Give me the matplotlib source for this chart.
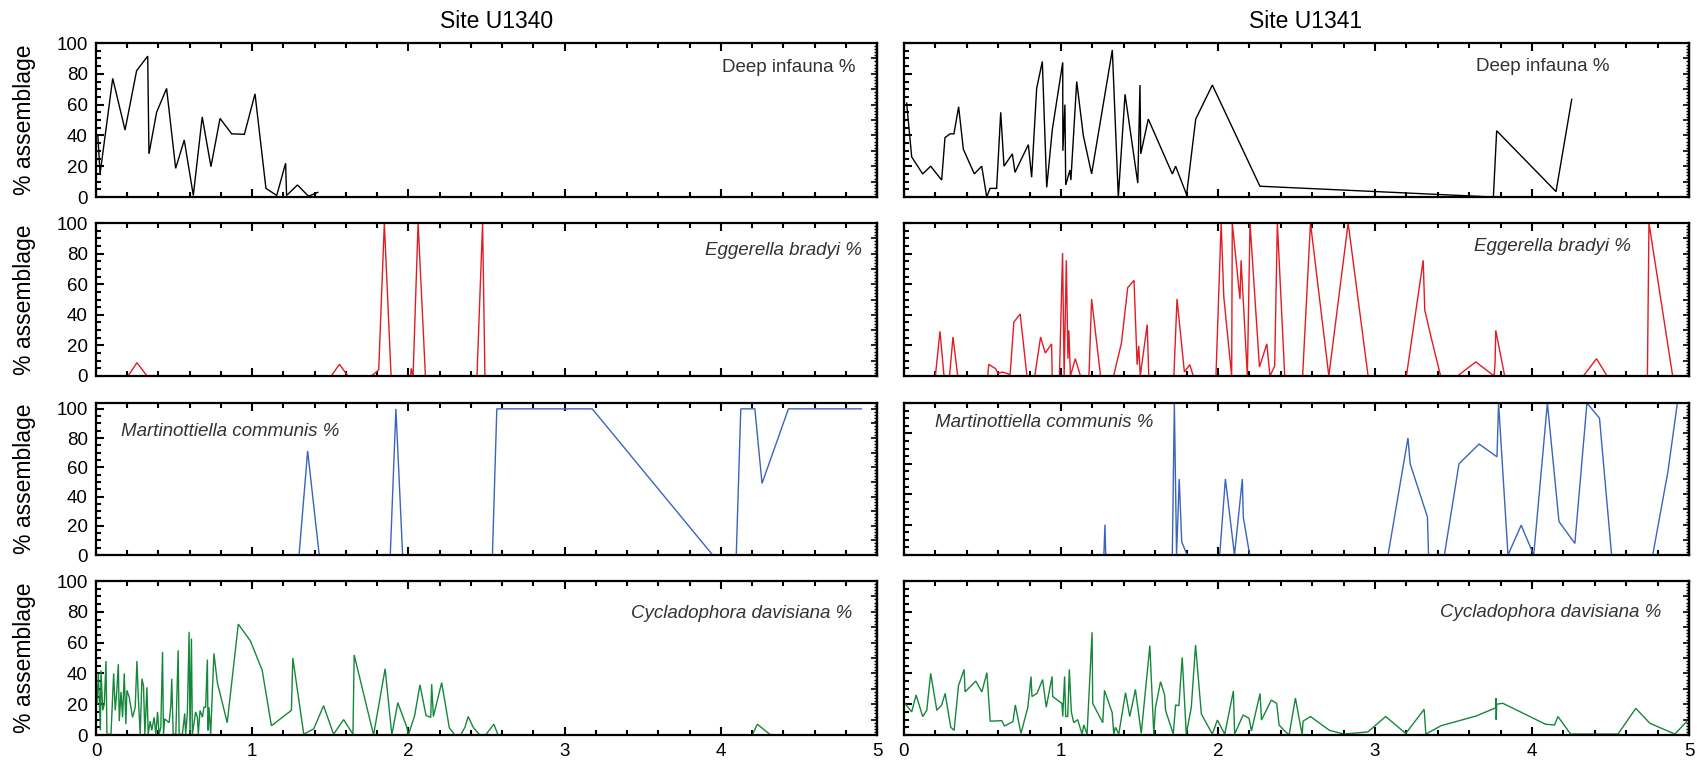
import matplotlib
matplotlib.use("Agg")
import matplotlib.pyplot as plt
from matplotlib.ticker import MultipleLocator, NullFormatter

plt.rcParams['font.family'] = ['Liberation Sans', 'DejaVu Sans']

# ---------------- data ----------------
deep_l_x = [0.0, 0.012, 0.026, 0.107, 0.186, 0.26, 0.331, 0.339, 0.388, 0.452, 0.51, 0.565, 0.623,
            0.68, 0.736, 0.794, 0.869, 0.95, 1.018, 1.088, 1.157, 1.214, 1.22, 1.29, 1.36, 1.42]
deep_l_y = [40, 40, 15, 77, 43.5, 82, 91.5, 28, 55, 70.5, 18.6, 37, 1,
            52, 19.7, 51, 41, 40.7, 67, 5.6, 1, 22, 1, 7.8, 0.5, 3]

deep_r_x = [0.017, 0.049, 0.119, 0.17, 0.24, 0.261, 0.293, 0.318, 0.348, 0.378, 0.448, 0.495, 0.527,
            0.548, 0.59, 0.616, 0.637, 0.69, 0.707, 0.792, 0.813, 0.845, 0.881, 0.909, 0.945, 1.011,
            1.012, 1.025, 1.03, 1.057, 1.063, 1.1, 1.142, 1.195, 1.327, 1.365, 1.408, 1.489, 1.503,
            1.508, 1.556, 1.709, 1.73, 1.8, 1.858, 1.964, 2.267, 3.754, 3.775, 4.153, 4.253]
deep_r_y = [61, 26, 15, 20, 11, 38.5, 41, 41, 58.6, 31, 15, 20, 0,
            5.6, 5.6, 55, 20, 28, 16, 34, 12.8, 70.5, 88, 6.3, 44, 87.4,
            30, 60, 7.8, 17.5, 11, 75, 40, 15, 95.5, 0, 66.7, 9, 72.7,
            28, 50.6, 15, 20, 1.5, 50.6, 72.7, 7, 0, 43, 3.5, 63.4]

egg_l_x = [0.205, 0.262, 0.327, 1.505, 1.559, 1.613, 1.764, 1.81, 1.846, 1.889, 2.015, 2.017, 2.03,
           2.062, 2.109, 2.439, 2.475, 2.49]
egg_l_y = [0, 8.7, 0, 0, 7.6, 0, 0, 4, 100, 0, 0, 5, 0,
           100, 0, 0, 100, 0]

egg_r_x = [0.2, 0.229, 0.255, 0.29, 0.312, 0.342, 0.533, 0.54, 0.583, 0.6,
           0.625, 0.676, 0.7, 0.74, 0.783, 0.833, 0.87, 0.9, 0.94, 0.944,
           0.99, 1.01, 1.02, 1.034, 1.044, 1.05, 1.06, 1.091, 1.124, 1.178,
           1.195, 1.252, 1.335, 1.385, 1.425, 1.465, 1.485, 1.495, 1.505, 1.549,
           1.559, 1.719, 1.739, 1.786, 1.82, 1.843, 1.987, 2.02, 2.037, 2.087,
           2.091, 2.14, 2.147, 2.187, 2.204, 2.264, 2.311, 2.331, 2.361, 2.378,
           2.425, 2.539, 2.589, 2.706, 2.829, 2.956, 3.2, 3.307, 3.317, 3.357,
           3.418, 3.525, 3.642, 3.759, 3.765, 3.769, 3.826, 4.327, 4.411, 4.478,
           4.735, 4.745, 4.896]
egg_r_y = [0, 29.2, 0, 0, 25.5, 0, 0, 7.6, 4.8, 1.5,
           2.6, 1, 35.3, 40.5, 0, 0, 25.5, 15, 21, 0,
           0, 80.4, 0, 75.6, 11.3, 29.8, 0, 11.3, 0, 0,
           50.3, 0, 0, 21.6, 57.7, 62.5, 7.4, 19.6, 0, 33.6,
           0, 0, 50.3, 2.6, 7.4, 0, 0, 100, 51.6, 0,
           100, 50.3, 75.6, 0, 100, 5.9, 21, 0, 6.5, 100,
           0, 0, 100, 0, 100, 0, 0, 75.6, 43, 25.5,
           0, 0, 9.2, 0, 9.2, 29.8, 0, 0, 11.3, 0,
           0, 100, 0]

mart_l_x = [1.3, 1.355, 1.429, 1.884, 1.92, 1.963, 2.538, 2.566, 3.177, 3.948, 4.099, 4.128, 4.218,
            4.264, 4.433, 4.9]
mart_l_y = [0, 71.2, 0, 0, 100, 0, 0, 100, 100, 0, 0, 100, 100,
            49, 100, 100]

mart_r_x = [1.273, 1.28, 1.285, 1.709, 1.722, 1.736, 1.753, 1.769, 1.803, 2.011,
            2.047, 2.105, 2.155, 2.161, 2.202, 3.083, 3.21, 3.224, 3.334, 3.341,
            3.442, 3.535, 3.663, 3.777, 3.787, 3.847, 3.931, 4.011, 4.098, 4.172,
            4.273, 4.35, 4.43, 4.507, 4.769, 4.866, 4.926]
mart_r_y = [0, 20, 0, 0, 100, 0, 50, 8.7, 0, 0,
            50, 0, 50, 25, 0, 0, 77, 60, 25, 0,
            0, 60, 73, 64.6, 100, 0, 19.6, 0, 100, 22,
            7.6, 100, 90, 0, 0, 55, 100]

cyc_l_x = [0.006, 0.015, 0.028, 0.032, 0.043, 0.053, 0.064, 0.070, 0.096, 0.113,
           0.123, 0.132, 0.143, 0.149, 0.160, 0.170, 0.181, 0.191, 0.198, 0.213,
           0.234, 0.251, 0.262, 0.272, 0.283, 0.294, 0.304, 0.313, 0.326, 0.334,
           0.347, 0.357, 0.372, 0.383, 0.394, 0.404, 0.415, 0.426, 0.432, 0.440,
           0.468, 0.479, 0.485, 0.494, 0.511, 0.526, 0.532, 0.553, 0.568, 0.574,
           0.585, 0.596, 0.602, 0.611, 0.617, 0.638, 0.649, 0.655, 0.666, 0.681,
           0.691, 0.702, 0.713, 0.717, 0.723, 0.734, 0.755, 0.777, 0.84, 0.911,
           0.989, 1.064, 1.123, 1.251, 1.26, 1.33, 1.394, 1.457, 1.521, 1.585,
           1.645, 1.653, 1.777, 1.851, 1.894, 1.932, 1.99, 2.0, 2.04, 2.074,
           2.113, 2.143, 2.149, 2.16, 2.213, 2.262, 2.298, 2.334, 2.362, 2.383,
           2.415, 2.457, 2.494, 2.547, 2.574, 4.202, 4.234, 4.319]
cyc_l_y = [20, 40, 3, 42, 16, 20, 48, 0.5, 0.5, 40,
           16, 27, 46, 9, 28, 11.5, 40, 7, 29, 24.5,
           11.5, 18, 48, 22, 0.5, 36.5, 32, 0.5, 31, 0.5,
           9, 3, 11.5, 0.5, 15, 0.5, 5, 54, 0.5, 10.5,
           8, 19, 36.5, 0.5, 0.5, 55, 0.5, 0.5, 14, 0.5,
           14, 67, 0.5, 62.6, 0.5, 15, 11.5, 0.5, 16, 11.5,
           18, 18, 49, 3, 18, 0.5, 53, 34, 8, 72,
           61, 42, 6, 16, 50, 0.5, 4, 19, 0.5, 10,
           0.5, 52, 0, 43, 0, 21, 5, 0, 12.6, 32.6,
           12.6, 11.5, 33, 12, 34, 4.6, 0, 0, 5, 12,
           5, 0, 0, 7, 0, 0, 7, 0]

cyc_r_x = [0.006, 0.049, 0.077, 0.119, 0.145, 0.17, 0.209, 0.24, 0.262, 0.298,
           0.319, 0.347, 0.383, 0.389, 0.457, 0.496, 0.528, 0.549, 0.623, 0.64,
           0.694, 0.709, 0.745, 0.789, 0.809, 0.815, 0.847, 0.883, 0.906, 0.943,
           0.947, 1.006, 1.011, 1.023, 1.03, 1.043, 1.053, 1.066, 1.081, 1.106,
           1.134, 1.145, 1.166, 1.198, 1.202, 1.266, 1.277, 1.326, 1.336, 1.347,
           1.368, 1.411, 1.438, 1.474, 1.511, 1.566, 1.591, 1.602, 1.634, 1.66,
           1.666, 1.715, 1.73, 1.751, 1.772, 1.798, 1.83, 1.857, 1.894, 1.964,
           1.996, 2.043, 2.098, 2.106, 2.16, 2.198, 2.213, 2.268, 2.277, 2.34,
           2.374, 2.389, 2.421, 2.453, 2.493, 2.536, 2.542, 2.589, 2.71, 2.802,
           2.955, 3.068, 3.196, 3.313, 3.324, 3.42, 3.643, 3.770, 3.771, 3.772,
           3.775, 3.814, 4.086, 4.144, 4.165, 4.246, 4.548, 4.661, 4.751, 4.91,
           4.985]
cyc_r_y = [20.5, 15, 26, 12, 16, 40, 16, 19.5, 27, 5,
           3, 32, 42.6, 28, 35, 28, 40.5, 9, 9.3, 5.8,
           8.7, 19.5, 1, 18, 38, 25, 27, 36, 18, 38,
           25, 20.5, 12, 38, 12, 12, 42.6, 15, 8, 10,
           0.6, 6.5, 0.6, 66.7, 20.5, 8, 29, 14.5, 0.6, 5,
           0.6, 27.5, 12, 29.6, 1, 58, 0.6, 18, 34.6, 26,
           16, 0.6, 19.5, 19, 50.4, 0.6, 18, 58.4, 13.6, 0.6,
           9.7, 0.6, 28.6, 0.6, 13, 10.8, 2.6, 27, 9.7, 22.7,
           20.5, 6.5, 3, 0, 24, 0, 9, 12, 3, 0.6,
           2, 12, 1, 16.7, 0.6, 6, 12.3, 17.7, 24, 10,
           20, 20.6, 7, 6.5, 12, 0.6, 0.6, 17.3, 7.6, 0.6,
           8.7]

site_titles = ["Site U1340", "Site U1341"]
panel_labels = ["Deep infauna %", "Eggerella bradyi %", "Martinottiella communis %",
                "Cycladophora davisiana %"]
x_ticks = [0, 1, 2, 3, 4, 5]
y_ticks = [0, 20, 40, 60, 80, 100]

# ---------------- figure ----------------
W, H = 1703, 764
fig = plt.figure(figsize=(W / 100, H / 100), dpi=100)

cols_px = [(96, 877), (904, 1689)]
rows_px = [(43, 197), (223, 376), (403, 555), (581, 735)]

series = [
    [(deep_l_x, deep_l_y), (deep_r_x, deep_r_y)],
    [(egg_l_x, egg_l_y), (egg_r_x, egg_r_y)],
    [(mart_l_x, mart_l_y), (mart_r_x, mart_r_y)],
    [(cyc_l_x, cyc_l_y), (cyc_r_x, cyc_r_y)],
]
colors = ["#000000", "#e31b23", "#3a64bd", "#15873a"]
ylims = [[100, 100], [100, 100], [104, 100], [100, 100]]
label_styles = ["normal", "italic", "italic", "italic"]
label_pos = [
    [(0.972, 0.84, "right"), (0.899, 0.845, "right")],
    [(0.98, 0.82, "right"), (0.926, 0.845, "right")],
    [(0.032, 0.81, "left"), (0.04, 0.87, "left")],
    [(0.968, 0.79, "right"), (0.965, 0.795, "right")],
]

for r, (top, bot) in enumerate(rows_px):
    for c, (x0, x1) in enumerate(cols_px):
        ax = fig.add_axes([x0 / W, 1 - bot / H, (x1 - x0) / W, (bot - top) / H])
        xs, ys = series[r][c]
        ax.plot(xs, ys, color=colors[r], lw=1.0, solid_joinstyle="miter")
        ax.set_xlim(0, 5)
        ax.set_ylim(0, ylims[r][c])
        ax.xaxis.set_minor_locator(MultipleLocator(0.2))
        ax.yaxis.set_minor_locator(MultipleLocator(5))
        ax.set_xticks(x_ticks)
        ax.set_yticks(y_ticks)
        ax.tick_params(which="both", direction="in", top=True, right=False, width=1.5,
                       labelsize=13.5, colors="black")
        ax.tick_params(which="major", length=6, pad=6)
        ax.tick_params(which="minor", length=3.5)
        for s in ax.spines.values():
            s.set_linewidth(1.6)
        sec = ax.secondary_yaxis("right")
        sec.yaxis.set_major_locator(MultipleLocator(10))
        sec.yaxis.set_minor_locator(MultipleLocator(2))
        sec.yaxis.set_major_formatter(NullFormatter())
        sec.tick_params(which="major", direction="in", length=4, width=1.2)
        sec.tick_params(which="minor", direction="in", length=2.5, width=1.0)
        sec.spines["right"].set_linewidth(1.6)
        if r < 3:
            ax.tick_params(labelbottom=False)
        if c == 1:
            ax.tick_params(labelleft=False)
        else:
            ax.set_ylabel("% assemblage", fontsize=16.5)
            ax.yaxis.set_label_coords(-(96 - 36) / 781, 0.5)
        lx, ly, ha = label_pos[r][c]
        ax.text(lx, ly, panel_labels[r], transform=ax.transAxes, ha=ha, va="center",
                fontsize=13.5, style=label_styles[r], color="#333333")

fig.text(497 / W, 1 - 22 / H, site_titles[0], ha="center", va="center", fontsize=16.5)
fig.text(1306 / W, 1 - 22 / H, site_titles[1], ha="center", va="center", fontsize=16.5)

fig.savefig("out.png", dpi=100)
